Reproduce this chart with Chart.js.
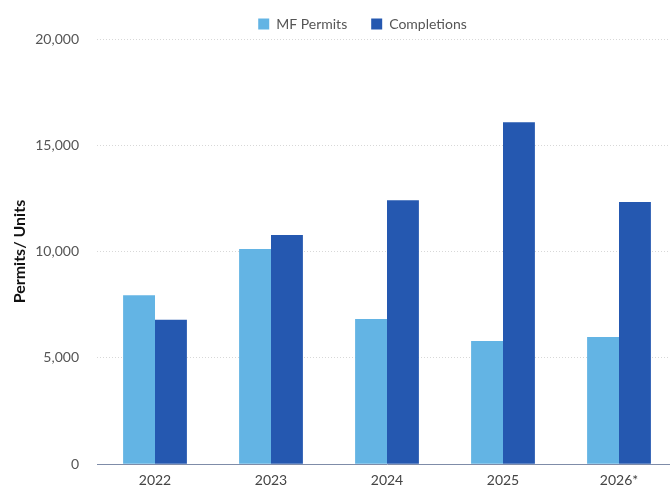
<!DOCTYPE html>
<html>
<head>
<meta charset="utf-8">
<script src="https://cdn.jsdelivr.net/npm/chart.js@4"></script>
<style>
  html, body { margin: 0; padding: 0; background: #fff; overflow: hidden; }
  #wrap { width: 720px; height: 497px; }
</style>
</head>
<body>
<div id="wrap"><canvas id="permits-completions"></canvas></div>
<script>
const years = ['2022', '2023', '2024', '2025', '2026*']
const mfPermits = [7950, 10120, 6830, 5790, 5980]
const completions = [6790, 10780, 12420, 16090, 12330]
const yTicks = [0, 5000, 10000, 15000, 20000]

const PERMITS_COLOR = '#63B4E4'
const COMPLETIONS_COLOR = '#2558B0'

// wider gap between legend items, without the extra height that padding adds
const LEGEND_TRIM = 9
const LEGEND_SHIFT_X = 21
const LEGEND_SHIFT_Y = -7
const legendSpacing = {
  id: 'legendSpacing',
  beforeInit: chart => {
    const legend = chart.legend
    const fit = legend.fit
    legend.fit = function () {
      fit.call(this)
      this.height -= LEGEND_TRIM
    }
    legend.draw = function () {
      this.ctx.save()
      this.ctx.translate(LEGEND_SHIFT_X, LEGEND_SHIFT_Y)
      this._draw()
      this.ctx.restore()
    }
  },
}

const ctx = document.getElementById('permits-completions').getContext('2d')

const config = {
  type: 'bar',
  data: {
    labels: years,
    datasets: [
      {
        label: 'MF Permits',
        data: mfPermits,
        backgroundColor: PERMITS_COLOR,
      },
      {
        label: 'Completions',
        data: completions,
        backgroundColor: COMPLETIONS_COLOR,
      },
    ],
  },
  options: {
    responsive: true,
    maintainAspectRatio: false,
    animation: false,
    categoryPercentage: 0.55,
    barPercentage: 1,
    layout: { padding: { left: 6, top: 0, right: 43, bottom: 0 } },
    plugins: {
      legend: {
        position: 'top',
        labels: {
          boxWidth: 11,
          boxHeight: 11,
          padding: 24,
          color: '#555',
          font: { family: 'Lato', size: 14 },
        },
      },
      tooltip: { enabled: false },
    },
    scales: {
      x: {
        grid: { display: false, drawTicks: false },
        border: { color: '#7f8ca8', width: 1 },
        ticks: {
          color: '#444',
          padding: 8,
          font: { family: 'Lato', size: 14 },
        },
      },
      y: {
        min: 0,
        max: 20000,
        afterBuildTicks: axis => {
          axis.ticks = yTicks.map(v => ({ value: v }))
        },
        afterFit: axis => {
          axis.width = 91
        },
        grid: {
          color: '#d8d8d8',
          lineWidth: 1,
          drawTicks: false,
        },
        border: { display: false, dash: [1, 2] },
        ticks: {
          color: '#555',
          padding: 18,
          font: { family: 'Lato', size: 14 },
          callback: value => value.toLocaleString('en-US'),
        },
        title: {
          display: true,
          text: 'Permits/ Units',
          color: '#111',
          font: { family: 'Lato', size: 16, weight: 'bold' },
          padding: { top: 4, bottom: 4 },
        },
      },
    },
  },
  plugins: [legendSpacing],
}

new Chart(ctx, config)
</script>
</body>
</html>
